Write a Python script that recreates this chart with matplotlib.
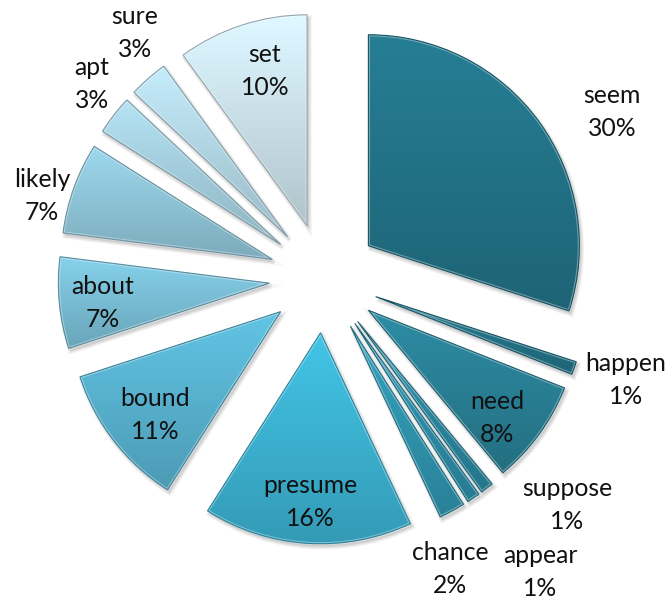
import numpy as np
import matplotlib.pyplot as plt
from matplotlib.patches import Wedge
from matplotlib.colors import to_rgb

words = ["seem", "happen", "need", "suppose", "appear", "chance", "presume",
         "bound", "about", "likely", "apt", "sure", "set"]
shares = [30, 1, 8, 1, 1, 2, 16, 11, 7, 7, 3, 3, 10]
colors = ["#23758A", "#24768B", "#2A8298", "#2C8BA4", "#2E91AB", "#3098B2",
          "#3DB6D6", "#5AB6D4", "#7CC2DA", "#92C9DD", "#A8D3E3", "#B6DBE9",
          "#CFE6EF"]
# label centres in pixels (x, y from top)
label_px = [(612, 112), (626, 380), (497, 418), (567, 505), (540, 572),
            (450, 569), (310, 502), (155, 415), (103, 303), (42, 196),
            (92, 84), (135, 33), (265, 71)]

W, H = 669, 600
cx, cy, R = 324.0, 278.0, 211.0

plt.rcParams['font.family'] = ['Lato', 'DejaVu Sans']

fig = plt.figure(figsize=(W / 100, H / 100), dpi=100)
ax = fig.add_axes([0, 0, 1, 1])

wedges, _ = ax.pie(shares, colors=colors, startangle=90, counterclock=False,
                   explode=[0.26] * len(shares), radius=1.0,
                   wedgeprops=dict(linewidth=0, zorder=2))

px = 1.0 / R
for w, c in zip(wedges, colors):
    base = np.array(to_rgb(c))
    x0, y0 = w.center
    # soft drop shadow down and to the right
    for k, a in [(4, 0.05), (3, 0.07), (2, 0.09)]:
        sh = Wedge((x0 + 2 * px, y0 - 3 * px), w.r, w.theta1, w.theta2,
                   facecolor='#777777', edgecolor='#777777', linewidth=k,
                   alpha=a, zorder=1)
        ax.add_patch(sh)
    t = np.radians(np.linspace(w.theta1, w.theta2, 60))
    xs = np.r_[x0, x0 + w.r * np.cos(t)]
    ys = np.r_[y0, y0 + w.r * np.sin(t)]
    # vertical shading, lighter on top and darker below
    f = np.linspace(1.08, 0.85, 100)[:, None]
    rgb = np.clip(base[None, :] * f, 0, 1)
    img = np.concatenate([rgb, np.ones((100, 1))], axis=1)[:, None, :]
    im = ax.imshow(img, extent=(xs.min(), xs.max(), ys.min(), ys.max()),
                   aspect='auto', origin='upper', zorder=2,
                   interpolation='bilinear')
    im.set_clip_path(w)
    # soft bevel rim
    rim = Wedge(w.center, w.r, w.theta1, w.theta2, fill=False,
                edgecolor='white', alpha=0.35, linewidth=2.4, zorder=3)
    rim.set_clip_path(w)
    ax.add_patch(rim)
    edge = Wedge(w.center, w.r, w.theta1, w.theta2, fill=False,
                 edgecolor=tuple(base * 0.72), linewidth=0.8, zorder=4)
    ax.add_patch(edge)

ax.set_xlim(-cx / R, (W - cx) / R)
ax.set_ylim(-(H - cy) / R, cy / R)
ax.axis('off')

for word, s, (lx, ly) in zip(words, shares, label_px):
    ax.text((lx - cx) / R, (cy - ly) / R, f"{word}\n{s}%", ha='center',
            va='center', fontsize=17.8, color='#111111', linespacing=1.5,
            zorder=5)

fig.savefig("out.png", dpi=100)
